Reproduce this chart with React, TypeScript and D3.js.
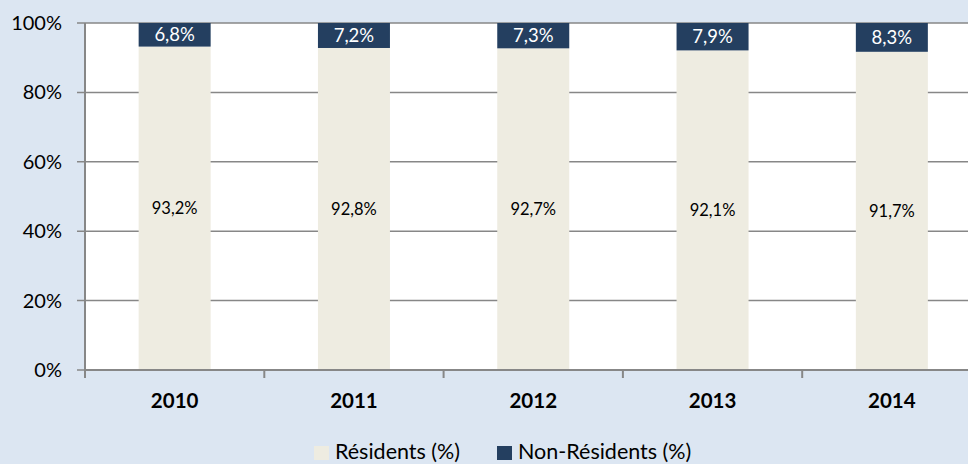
import React, { useEffect, useRef } from 'react';
import * as d3 from 'd3';

const years = ['2010', '2011', '2012', '2013', '2014'];
const residents = [93.2, 92.8, 92.7, 92.1, 91.7];
const nonResidents = [6.8, 7.2, 7.3, 7.9, 8.3];
const yTicks = [0, 20, 40, 60, 80, 100];

const fmt = (v: number) => v.toFixed(1).replace('.', ',') + '%';

const App: React.FC = () => {
    const ref = useRef<SVGSVGElement>(null);

    useEffect(() => {
        if (!ref.current) return;
        const width = 968;
        const height = 464;
        const left = 85;
        const top = 23;
        const bottom = 370;
        const font = 'Lato, "Open Sans", sans-serif';

        const svg = d3.select(ref.current);
        svg.selectAll('*').remove();

        svg.append('rect')
            .attr('width', width)
            .attr('height', height)
            .attr('fill', '#dce6f2');

        const x = d3.scaleBand<string>()
            .domain(years)
            .range([left, left + 179.3 * years.length]);

        const y = d3.scaleLinear()
            .domain([0, 100])
            .range([bottom, top]);

        svg.append('rect')
            .attr('x', left)
            .attr('y', top)
            .attr('width', width - left)
            .attr('height', bottom - top)
            .attr('fill', '#ffffff');

        // gridlines + y labels
        svg.selectAll('.grid')
            .data(yTicks)
            .enter()
            .append('line')
            .attr('x1', left - 8)
            .attr('x2', width)
            .attr('y1', d => y(d))
            .attr('y2', d => y(d))
            .attr('stroke', '#878787')
            .attr('stroke-width', 1.5);

        svg.selectAll('.ylab')
            .data(yTicks)
            .enter()
            .append('text')
            .attr('x', 62)
            .attr('y', d => y(d))
            .attr('dy', '0.35em')
            .attr('text-anchor', 'end')
            .style('font-family', font)
            .style('font-size', '20px')
            .style('fill', '#000')
            .text(d => d + '%');

        const barW = 72;
        const cx = (d: string) => (x(d) as number) + x.bandwidth() / 2;

        const g = svg.append('g');
        g.selectAll('.res')
            .data(years)
            .enter()
            .append('rect')
            .attr('x', d => cx(d) - barW / 2)
            .attr('width', barW)
            .attr('y', (d, i) => y(residents[i]))
            .attr('height', (d, i) => bottom - y(residents[i]))
            .attr('fill', '#eeece1');

        g.selectAll('.non')
            .data(years)
            .enter()
            .append('rect')
            .attr('x', d => cx(d) - barW / 2)
            .attr('width', barW)
            .attr('y', (d, i) => y(residents[i] + nonResidents[i]))
            .attr('height', (d, i) => y(residents[i]) - y(residents[i] + nonResidents[i]))
            .attr('fill', '#243f60');

        g.selectAll('.resLab')
            .data(years)
            .enter()
            .append('text')
            .attr('x', d => cx(d))
            .attr('y', (d, i) => y(residents[i] / 2))
            .attr('dy', '0.35em')
            .attr('text-anchor', 'middle')
            .style('font-family', font)
            .style('font-size', '16.5px')
            .style('fill', '#000')
            .text((d, i) => fmt(residents[i]));

        g.selectAll('.nonLab')
            .data(years)
            .enter()
            .append('text')
            .attr('x', d => cx(d))
            .attr('y', (d, i) => y(residents[i] + nonResidents[i] / 2))
            .attr('dy', '0.35em')
            .attr('text-anchor', 'middle')
            .style('font-family', font)
            .style('font-size', '18.5px')
            .style('fill', '#fff')
            .text((d, i) => fmt(nonResidents[i]));

        // axes
        svg.append('line')
            .attr('x1', left)
            .attr('x2', left)
            .attr('y1', top)
            .attr('y2', bottom + 8)
            .attr('stroke', '#878787')
            .attr('stroke-width', 2);

        svg.append('line')
            .attr('x1', left)
            .attr('x2', width)
            .attr('y1', bottom)
            .attr('y2', bottom)
            .attr('stroke', '#878787')
            .attr('stroke-width', 2);

        svg.selectAll('.xtick')
            .data(years.slice(1))
            .enter()
            .append('line')
            .attr('x1', d => x(d) as number)
            .attr('x2', d => x(d) as number)
            .attr('y1', bottom)
            .attr('y2', bottom + 8)
            .attr('stroke', '#878787')
            .attr('stroke-width', 2);

        svg.selectAll('.xlab')
            .data(years)
            .enter()
            .append('text')
            .attr('x', d => cx(d))
            .attr('y', 401)
            .attr('dy', '0.35em')
            .attr('text-anchor', 'middle')
            .style('font-family', font)
            .style('font-size', '20.5px')
            .style('font-weight', 'bold')
            .style('fill', '#000')
            .text(d => d);

        // legend
        const legend = [
            { label: 'Résidents (%)', color: '#eeece1', x: 314 },
            { label: 'Non-Résidents (%)', color: '#243f60', x: 497 },
        ];
        const lg = svg.selectAll('.leg')
            .data(legend)
            .enter()
            .append('g');
        lg.append('rect')
            .attr('x', d => d.x)
            .attr('y', 446)
            .attr('width', 15)
            .attr('height', 14)
            .attr('fill', d => d.color);
        lg.append('text')
            .attr('x', d => d.x + 21)
            .attr('y', 459)
            .style('font-family', font)
            .style('font-size', '21.5px')
            .style('fill', '#000')
            .text(d => d.label);
    }, []);

    return (
        <svg ref={ref} width={968} height={464} style={{ position: 'absolute', left: 0, top: 0, display: 'block' }} />
    );
};

export default App;
